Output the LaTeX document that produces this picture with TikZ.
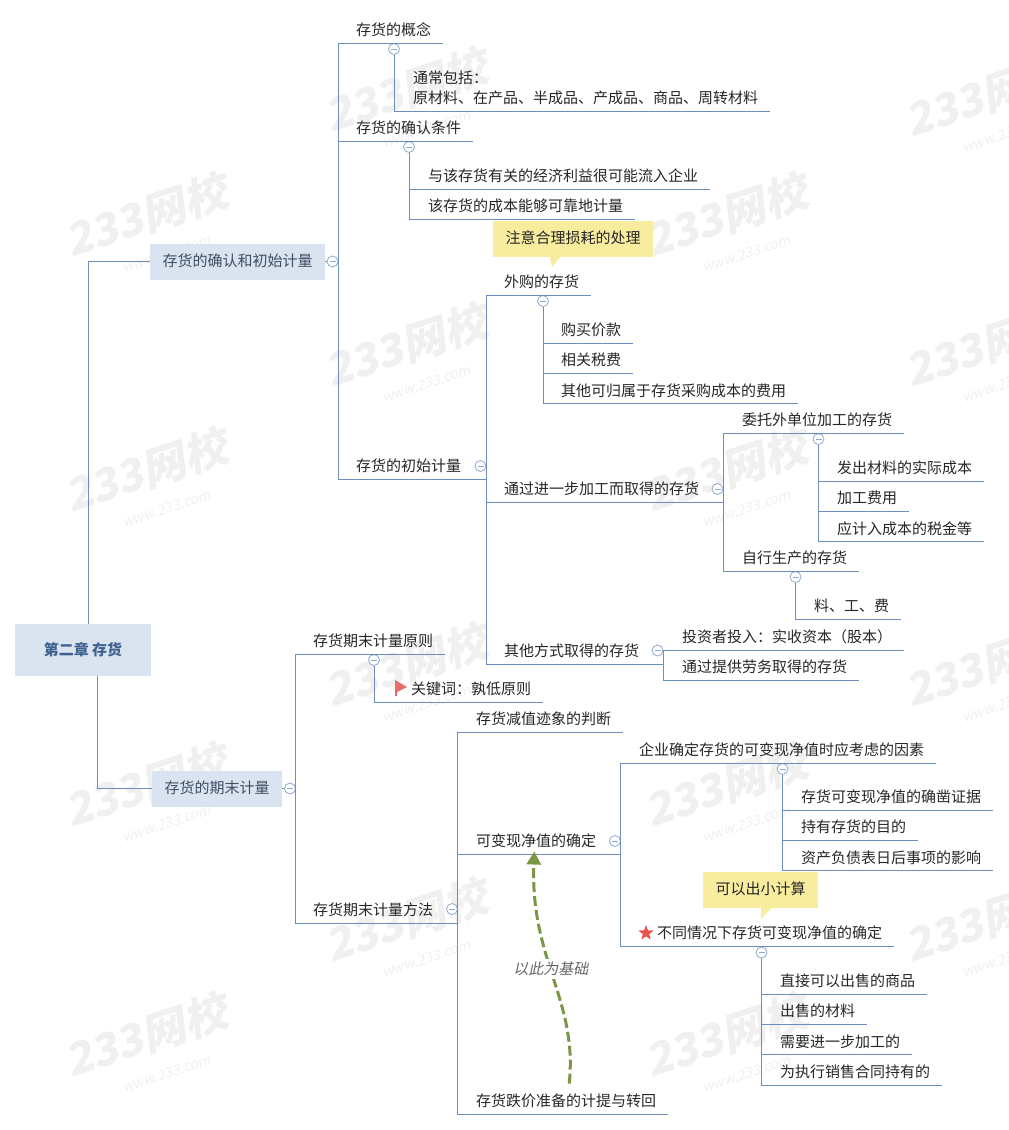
\documentclass[tikz,border=0pt]{standalone}
\usepackage{fontspec}
\setmainfont{Noto Sans CJK SC}
\newfontfamily\slantcjk[FakeSlant=0.2]{Noto Sans CJK SC}
\usetikzlibrary{arrows.meta,shapes.geometric,positioning,calc}
\definecolor{linkblue}{HTML}{6C8EBF}
\definecolor{foldblue}{HTML}{8FAAD0}
\definecolor{boxblue}{HTML}{DAE4F1}
\definecolor{boxtext}{HTML}{3E4E63}
\definecolor{roottext}{HTML}{3F628F}
\definecolor{noteyellow}{HTML}{F8EC9E}
\definecolor{relgreen}{HTML}{7B9645}
\definecolor{markgrey}{HTML}{F0F0F0}
\definecolor{starred}{HTML}{E9534F}
\definecolor{flagred}{HTML}{E96C6C}

\begin{document}
\begin{tikzpicture}[
    x=1pt,y=-1pt,
    font=\fontsize{15}{20}\selectfont,
    topic/.style={anchor=south west,inner xsep=12pt,inner ysep=0pt,text height=22.6pt,text depth=7.4pt,text=black!85},
    leafbelow/.style={topic,anchor=north west},
    branch/.style={fill=boxblue,minimum height=36pt,inner xsep=12.5pt,text height=11pt,text depth=2pt,text=boxtext},
    note/.style={fill=noteyellow,minimum height=36pt,inner xsep=12.5pt,text height=11pt,text depth=2pt,text=black!85},
    fold/.style={circle,draw=foldblue,line width=0.8pt,fill=white,minimum size=11pt,inner sep=0pt,
        path picture={\draw[foldblue,line width=0.8pt] ([xshift=2.5pt]path picture bounding box.west) -- ([xshift=-2.5pt]path picture bounding box.east);}},
    link/.style={draw=linkblue,line width=0.9pt},
    relation/.style={draw=relgreen,line width=3pt,dash pattern=on 10pt off 4pt,-{Triangle[length=13pt,width=14pt]}},
    watermark/.style={rotate=18,align=center,text=markgrey,font=\fontsize{44}{36}\selectfont\bfseries\slantcjk}
]
    \useasboundingbox (0,0) rectangle (1009,1130);

    % watermarks
    \foreach \x/\y [count=\i] in {150/228,410/103,730/228,990/108,150/483,410/358,730/483,990/358,410/678,990/678,150/798,730/798,410/933,990/933,150/1048,730/1048}
        \node[watermark] (mark\i) at (\x,\y) {233网校\\[-5pt]{\fontsize{14}{16}\selectfont\mdseries\ \ \ \ \ www.233.com}};

    % root and the two branches
    \node[fill=boxblue,minimum width=136pt,minimum height=52pt,text=roottext] (root) at (83,650) {\bfseries 第二章 存货};
    \node[branch] (recog) at (237.5,261.5) {存货的确认和初始计量};
    \node[branch] (closing) at (217,788.5) {存货的期末计量};
    \node[fold] (foldrecog) at (332.5,261.5) {};
    \node[fold] (foldclosing) at (290,788.5) {};

    % upper branch
    \node[topic] (concept) at (344,43) {存货的概念};
    \node[fold] (foldconcept) at (394,49) {};
    \node[topic,align=left] (usual) at (401,111) {通常包括：\\原材料、在产品、半成品、产成品、商品、周转材料};

    \node[topic] (confirm) at (344,141) {存货的确认条件};
    \node[fold] (foldconfirm) at (409,147) {};
    \node[topic] (benefit) at (416,189) {与该存货有关的经济利益很可能流入企业};
    \node[leafbelow,below right=0pt and 0pt of benefit.south west] (reliable) {该存货的成本能够可靠地计量};

    \node[topic] (initial) at (344,479) {存货的初始计量};
    \node[fold] (foldinitial) at (480.5,466) {};

    \node[note] (carenote) at (573,239) {注意合理损耗的处理};
    \fill[noteyellow] ([xshift=-23pt]carenote.south) -- ([xshift=-13pt]carenote.south) -- ++(-8,10) -- cycle;

    \node[topic] (purchase) at (492,295) {外购的存货};
    \node[fold] (foldpurchase) at (543,301) {};
    \node[topic] (price) at (549,343) {购买价款};
    \node[leafbelow,below right=0pt and 0pt of price.south west] (tax) {相关税费};
    \node[leafbelow,below right=0pt and 0pt of tax.south west] (cost) {其他可归属于存货采购成本的费用};

    \node[topic] (process) at (492,502) {通过进一步加工而取得的存货};
    \node[fold] (foldprocess) at (717.5,489) {};
    \node[topic] (entrust) at (730,433) {委托外单位加工的存货};
    \node[fold] (foldentrust) at (818.5,439) {};
    \node[topic] (issued) at (825,481) {发出材料的实际成本};
    \node[leafbelow,below right=0pt and 0pt of issued.south west] (fee) {加工费用};
    \node[leafbelow,below right=0pt and 0pt of fee.south west] (duty) {应计入成本的税金等};
    \node[topic] (selfmade) at (730,571) {自行生产的存货};
    \node[fold] (foldselfmade) at (795.5,577) {};
    \node[topic] (labour) at (802,619) {料、工、费};

    \node[topic] (otherway) at (492,664) {其他方式取得的存货};
    \node[fold] (foldotherway) at (657.5,650.5) {};
    \node[topic] (investor) at (670,650) {投资者投入：实收资本（股本）};
    \node[leafbelow,below right=0pt and 0pt of investor.south west] (service) {通过提供劳务取得的存货};

    % lower branch
    \node[topic] (principle) at (301,654) {存货期末计量原则};
    \node[fold] (foldprinciple) at (374,660) {};
    \node[topic] (keyword) at (399,702) {关键词：孰低原则};
    \fill[flagred] (395,680) -- (407,687) -- (397,692) -- (397,696) -- (395,696) -- cycle;

    \node[topic] (method) at (301,923) {存货期末计量方法};
    \node[fold] (foldmethod) at (452,909) {};
    \node[topic] (signs) at (464,732) {存货减值迹象的判断};
    \node[topic] (netvalue) at (464,854.5) {可变现净值的确定};
    \node[fold] (foldnetvalue) at (615,841) {};
    \node[topic] (decline) at (464,1114) {存货跌价准备的计提与转回};

    \node[topic] (factor) at (627,763) {企业确定存货的可变现净值时应考虑的因素};
    \node[fold] (foldfactor) at (782.5,769) {};
    \node[topic] (proof) at (789,810) {存货可变现净值的确凿证据};
    \node[leafbelow,below right=0pt and 0pt of proof.south west] (purpose) {持有存货的目的};
    \node[leafbelow,below right=0pt and 0pt of purpose.south west] (event) {资产负债表日后事项的影响};

    \node[note] (calcnote) at (760.5,890) {可以出小计算};
    \fill[noteyellow] ([xshift=0.5pt]calcnote.south) -- ([xshift=10.5pt]calcnote.south) -- ++(-10,11) -- cycle;

    \node[topic] (varied) at (645,946) {不同情况下存货可变现净值的确定};
    \node[star,star points=5,star point ratio=2.4,fill=starred,inner sep=0pt,minimum size=16pt] (starmark) at (646,933) {};
    \node[fold] (foldvaried) at (761.5,952.5) {};
    \node[topic] (saleable) at (768,994) {直接可以出售的商品};
    \node[leafbelow,below right=0pt and 0pt of saleable.south west] (material) {出售的材料};
    \node[leafbelow,below right=0pt and 0pt of material.south west] (further) {需要进一步加工的};
    \node[leafbelow,below right=0pt and 0pt of further.south west] (contract) {为执行销售合同持有的};

    % connectors
    \draw[link] ([xshift=5pt]root.north) |- (recog.west);
    \draw[link] ([xshift=14pt]root.south) |- (closing.west);
    \draw[link] (recog.east) -- (foldrecog.west);
    \draw[link] (closing.east) -- (foldclosing.west);

    \draw[link] (foldrecog.east) |- (concept.south east);
    \draw[link] (foldrecog.east) |- (confirm.south east);
    \draw[link] (foldrecog.east) |- (foldinitial.east |- initial.south);
    \draw[link] (foldconcept.south) |- (usual.south east);
    \draw[link] (foldconfirm.south) |- (benefit.south east);
    \draw[link] (foldconfirm.south) |- (reliable.south east);

    \draw[link] (foldinitial.east) |- (purchase.south east);
    \draw[link] (foldinitial.east) |- (foldprocess.east |- process.south);
    \draw[link] (foldinitial.east) |- (foldotherway.east |- otherway.south);
    \draw[link] (foldpurchase.south) |- (price.south east);
    \draw[link] (foldpurchase.south) |- (tax.south east);
    \draw[link] (foldpurchase.south) |- (cost.south east);
    \draw[link] (foldprocess.east) |- (entrust.south east);
    \draw[link] (foldprocess.east) |- (selfmade.south east);
    \draw[link] (foldentrust.south) |- (issued.south east);
    \draw[link] (foldentrust.south) |- (fee.south east);
    \draw[link] (foldentrust.south) |- (duty.south east);
    \draw[link] (foldselfmade.south) |- (labour.south east);
    \draw[link] (foldotherway.east) |- (investor.south east);
    \draw[link] (foldotherway.east) |- (service.south east);

    \draw[link] (foldclosing.east) |- (principle.south east);
    \draw[link] (foldclosing.east) |- (foldmethod.east |- method.south);
    \draw[link] (foldprinciple.south) |- (keyword.south east);
    \draw[link] (foldmethod.east) |- (signs.south east);
    \draw[link] (foldmethod.east) |- (foldnetvalue.east |- netvalue.south);
    \draw[link] (foldmethod.east) |- (decline.south east);
    \draw[link] (foldnetvalue.east) |- (factor.south east);
    \draw[link] (foldnetvalue.east) |- (varied.south east);
    \draw[link] (foldfactor.south) |- (proof.south east);
    \draw[link] (foldfactor.south) |- (purpose.south east);
    \draw[link] (foldfactor.south) |- (event.south east);
    \draw[link] (foldvaried.south) |- (saleable.south east);
    \draw[link] (foldvaried.south) |- (material.south east);
    \draw[link] (foldvaried.south) |- (further.south east);
    \draw[link] (foldvaried.south) |- (contract.south east);

    \draw[relation,shorten >=-3pt] ([xshift=3pt]decline.north) .. controls (578,1000) and (530,960) .. node[pos=0.54,fill=white,inner ysep=3pt,inner xsep=0pt,text=black!60] (baselabel) {\slantcjk 以此为基础} ([xshift=-2pt]netvalue.south);
\end{tikzpicture}
\end{document}
